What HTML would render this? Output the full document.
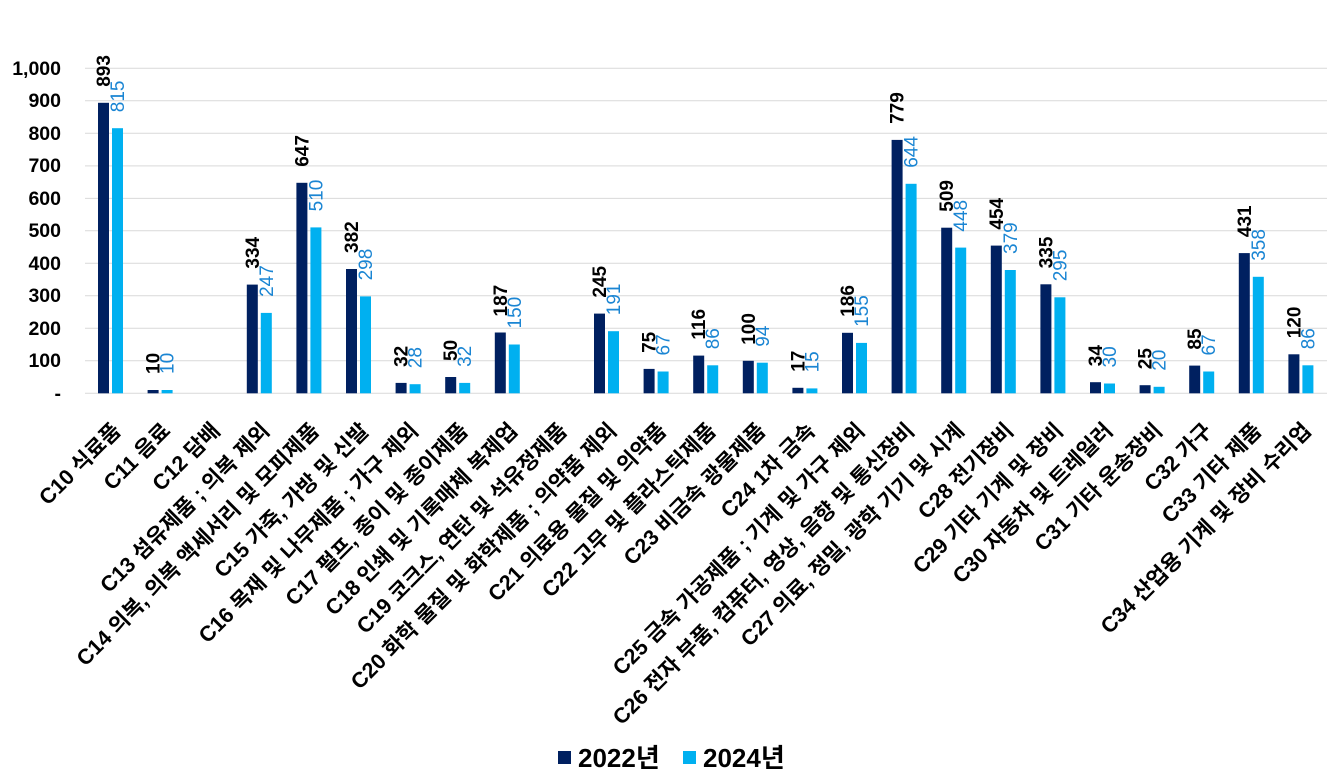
<!DOCTYPE html>
<html><head><meta charset="utf-8"><style>
html,body{margin:0;padding:0;background:#fff}
svg{display:block}
text{font-family:"Liberation Sans","Noto Sans CJK KR",sans-serif}
.y{font-size:19.5px;font-weight:bold;text-anchor:end;fill:#000}
.a{font-size:19px;font-weight:bold;fill:#000}
.b{font-size:19px;fill:#1a85d3}
.c{font-size:21.5px;font-weight:bold;text-anchor:end;fill:#000}
.n{fill:#002060}.l{fill:#00b0f0}
</style></head><body>
<svg width="1340" height="783" viewBox="0 0 1340 783">
<g stroke="#d9d9d9" stroke-width="1">
<line x1="85" x2="1327" y1="68.3" y2="68.3"/><line x1="85" x2="1327" y1="100.8" y2="100.8"/><line x1="85" x2="1327" y1="133.3" y2="133.3"/><line x1="85" x2="1327" y1="165.9" y2="165.9"/><line x1="85" x2="1327" y1="198.4" y2="198.4"/><line x1="85" x2="1327" y1="230.8" y2="230.8"/><line x1="85" x2="1327" y1="263.3" y2="263.3"/><line x1="85" x2="1327" y1="295.8" y2="295.8"/><line x1="85" x2="1327" y1="328.3" y2="328.3"/><line x1="85" x2="1327" y1="360.8" y2="360.8"/><line x1="85" x2="1327" y1="393.3" y2="393.3"/>
</g>
<g>
<text class="y" x="61" y="75">1,000</text><text class="y" x="61" y="107">900</text><text class="y" x="61" y="140">800</text><text class="y" x="61" y="172">700</text><text class="y" x="61" y="205">600</text><text class="y" x="61" y="237">500</text><text class="y" x="61" y="270">400</text><text class="y" x="61" y="302">300</text><text class="y" x="61" y="335">200</text><text class="y" x="61" y="367">100</text><text class="y" x="61" y="400">-</text>
</g>
<g>
<rect class="n" x="98" y="102.8" width="11" height="290.5"/><rect class="l" x="112" y="128.2" width="11" height="265.1"/>
<rect class="n" x="147.6" y="390" width="11" height="3.3"/><rect class="l" x="161.6" y="390" width="11" height="3.3"/>
<rect class="n" x="246.8" y="284.6" width="11" height="108.7"/><rect class="l" x="260.8" y="312.9" width="11" height="80.4"/>
<rect class="n" x="296.4" y="182.8" width="11" height="210.5"/><rect class="l" x="310.4" y="227.4" width="11" height="165.9"/>
<rect class="n" x="346" y="269" width="11" height="124.3"/><rect class="l" x="360" y="296.4" width="11" height="96.9"/>
<rect class="n" x="395.6" y="382.9" width="11" height="10.4"/><rect class="l" x="409.6" y="384.2" width="11" height="9.1"/>
<rect class="n" x="445.2" y="377" width="11" height="16.3"/><rect class="l" x="459.2" y="382.9" width="11" height="10.4"/>
<rect class="n" x="494.8" y="332.5" width="11" height="60.8"/><rect class="l" x="508.8" y="344.5" width="11" height="48.8"/>
<rect class="n" x="594" y="313.6" width="11" height="79.7"/><rect class="l" x="608" y="331.2" width="11" height="62.1"/>
<rect class="n" x="643.6" y="368.9" width="11" height="24.4"/><rect class="l" x="657.6" y="371.5" width="11" height="21.8"/>
<rect class="n" x="693.2" y="355.6" width="11" height="37.7"/><rect class="l" x="707.2" y="365.3" width="11" height="28"/>
<rect class="n" x="742.8" y="360.8" width="11" height="32.5"/><rect class="l" x="756.8" y="362.7" width="11" height="30.6"/>
<rect class="n" x="792.4" y="387.8" width="11" height="5.5"/><rect class="l" x="806.4" y="388.4" width="11" height="4.9"/>
<rect class="n" x="842" y="332.8" width="11" height="60.5"/><rect class="l" x="856" y="342.9" width="11" height="50.4"/>
<rect class="n" x="891.6" y="139.9" width="11" height="253.4"/><rect class="l" x="905.6" y="183.8" width="11" height="209.5"/>
<rect class="n" x="941.2" y="227.7" width="11" height="165.6"/><rect class="l" x="955.2" y="247.6" width="11" height="145.7"/>
<rect class="n" x="990.8" y="245.6" width="11" height="147.7"/><rect class="l" x="1004.8" y="270" width="11" height="123.3"/>
<rect class="n" x="1040.4" y="284.3" width="11" height="109"/><rect class="l" x="1054.4" y="297.3" width="11" height="96"/>
<rect class="n" x="1090" y="382.2" width="11" height="11.1"/><rect class="l" x="1104" y="383.5" width="11" height="9.8"/>
<rect class="n" x="1139.6" y="385.2" width="11" height="8.1"/><rect class="l" x="1153.6" y="386.8" width="11" height="6.5"/>
<rect class="n" x="1189.2" y="365.6" width="11" height="27.7"/><rect class="l" x="1203.2" y="371.5" width="11" height="21.8"/>
<rect class="n" x="1238.8" y="253.1" width="11" height="140.2"/><rect class="l" x="1252.8" y="276.8" width="11" height="116.5"/>
<rect class="n" x="1288.4" y="354.3" width="11" height="39"/><rect class="l" x="1302.4" y="365.3" width="11" height="28"/>
</g>
<g>
<text class="a" transform="translate(110,86.8) rotate(-90)">893</text><text class="b" transform="translate(124,112.2) rotate(-90)">815</text>
<text class="a" transform="translate(159.6,374) rotate(-90)">10</text><text class="b" transform="translate(173.6,374) rotate(-90)">10</text>
<text class="a" transform="translate(258.8,268.6) rotate(-90)">334</text><text class="b" transform="translate(272.8,296.9) rotate(-90)">247</text>
<text class="a" transform="translate(308.4,166.8) rotate(-90)">647</text><text class="b" transform="translate(322.4,211.4) rotate(-90)">510</text>
<text class="a" transform="translate(358,253) rotate(-90)">382</text><text class="b" transform="translate(372,280.4) rotate(-90)">298</text>
<text class="a" transform="translate(407.6,366.9) rotate(-90)">32</text><text class="b" transform="translate(421.6,368.2) rotate(-90)">28</text>
<text class="a" transform="translate(457.2,361) rotate(-90)">50</text><text class="b" transform="translate(471.2,366.9) rotate(-90)">32</text>
<text class="a" transform="translate(506.8,316.5) rotate(-90)">187</text><text class="b" transform="translate(520.8,328.5) rotate(-90)">150</text>
<text class="a" transform="translate(606,297.6) rotate(-90)">245</text><text class="b" transform="translate(620,315.2) rotate(-90)">191</text>
<text class="a" transform="translate(655.6,352.9) rotate(-90)">75</text><text class="b" transform="translate(669.6,355.5) rotate(-90)">67</text>
<text class="a" transform="translate(705.2,339.6) rotate(-90)">116</text><text class="b" transform="translate(719.2,349.3) rotate(-90)">86</text>
<text class="a" transform="translate(754.8,344.8) rotate(-90)">100</text><text class="b" transform="translate(768.8,346.7) rotate(-90)">94</text>
<text class="a" transform="translate(804.4,371.8) rotate(-90)">17</text><text class="b" transform="translate(818.4,372.4) rotate(-90)">15</text>
<text class="a" transform="translate(854,316.8) rotate(-90)">186</text><text class="b" transform="translate(868,326.9) rotate(-90)">155</text>
<text class="a" transform="translate(903.6,123.9) rotate(-90)">779</text><text class="b" transform="translate(917.6,167.8) rotate(-90)">644</text>
<text class="a" transform="translate(953.2,211.7) rotate(-90)">509</text><text class="b" transform="translate(967.2,231.6) rotate(-90)">448</text>
<text class="a" transform="translate(1002.8,229.6) rotate(-90)">454</text><text class="b" transform="translate(1016.8,254) rotate(-90)">379</text>
<text class="a" transform="translate(1052.4,268.3) rotate(-90)">335</text><text class="b" transform="translate(1066.4,281.3) rotate(-90)">295</text>
<text class="a" transform="translate(1102,366.2) rotate(-90)">34</text><text class="b" transform="translate(1116,367.5) rotate(-90)">30</text>
<text class="a" transform="translate(1151.6,369.2) rotate(-90)">25</text><text class="b" transform="translate(1165.6,370.8) rotate(-90)">20</text>
<text class="a" transform="translate(1201.2,349.6) rotate(-90)">85</text><text class="b" transform="translate(1215.2,355.5) rotate(-90)">67</text>
<text class="a" transform="translate(1250.8,237.1) rotate(-90)">431</text><text class="b" transform="translate(1264.8,260.8) rotate(-90)">358</text>
<text class="a" transform="translate(1300.4,338.3) rotate(-90)">120</text><text class="b" transform="translate(1314.4,349.3) rotate(-90)">86</text>
</g>
<g>
<text class="c" transform="translate(122,432) rotate(-45)">C10 식료품</text>
<text class="c" transform="translate(171.6,432) rotate(-45)">C11 음료</text>
<text class="c" transform="translate(221.2,432) rotate(-45)">C12 담배</text>
<text class="c" transform="translate(270.8,432) rotate(-45)">C13 섬유제품 ; 의복 제외</text>
<text class="c" transform="translate(320.4,432) rotate(-45)">C14 의복, 의복 액세서리 및 모피제품</text>
<text class="c" transform="translate(370,432) rotate(-45)">C15 가죽, 가방 및 신발</text>
<text class="c" transform="translate(419.6,432) rotate(-45)">C16 목재 및 나무제품 ; 가구 제외</text>
<text class="c" transform="translate(469.2,432) rotate(-45)">C17 펄프, 종이 및 종이제품</text>
<text class="c" transform="translate(518.8,432) rotate(-45)">C18 인쇄 및 기록매체 복제업</text>
<text class="c" transform="translate(568.4,432) rotate(-45)">C19 코크스, 연탄 및 석유정제품</text>
<text class="c" transform="translate(618,432) rotate(-45)">C20 화학 물질 및 화학제품 ; 의약품 제외</text>
<text class="c" transform="translate(667.6,432) rotate(-45)">C21 의료용 물질 및 의약품</text>
<text class="c" transform="translate(717.2,432) rotate(-45)">C22 고무 및 플라스틱제품</text>
<text class="c" transform="translate(766.8,432) rotate(-45)">C23 비금속 광물제품</text>
<text class="c" transform="translate(816.4,432) rotate(-45)">C24 1차 금속</text>
<text class="c" transform="translate(866,432) rotate(-45)">C25 금속 가공제품 ; 기계 및 가구 제외</text>
<text class="c" transform="translate(915.6,432) rotate(-45)">C26 전자 부품, 컴퓨터, 영상, 음향 및 통신장비</text>
<text class="c" transform="translate(965.2,432) rotate(-45)">C27 의료, 정밀, 광학 기기 및 시계</text>
<text class="c" transform="translate(1014.8,432) rotate(-45)">C28 전기장비</text>
<text class="c" transform="translate(1064.4,432) rotate(-45)">C29 기타 기계 및 장비</text>
<text class="c" transform="translate(1114,432) rotate(-45)">C30 자동차 및 트레일러</text>
<text class="c" transform="translate(1163.6,432) rotate(-45)">C31 기타 운송장비</text>
<text class="c" transform="translate(1213.2,432) rotate(-45)">C32 가구</text>
<text class="c" transform="translate(1262.8,432) rotate(-45)">C33 기타 제품</text>
<text class="c" transform="translate(1312.4,432) rotate(-45)">C34 산업용 기계 및 장비 수리업</text>
</g>
<rect class="n" x="558" y="751" width="13" height="13"/>
<text x="578" y="767" style="font-size:26px;font-weight:bold" fill="#000">2022년</text>
<rect class="l" x="683" y="751" width="13" height="13"/>
<text x="703" y="767" style="font-size:26px;font-weight:bold" fill="#000">2024년</text>
</svg>
</body></html>
